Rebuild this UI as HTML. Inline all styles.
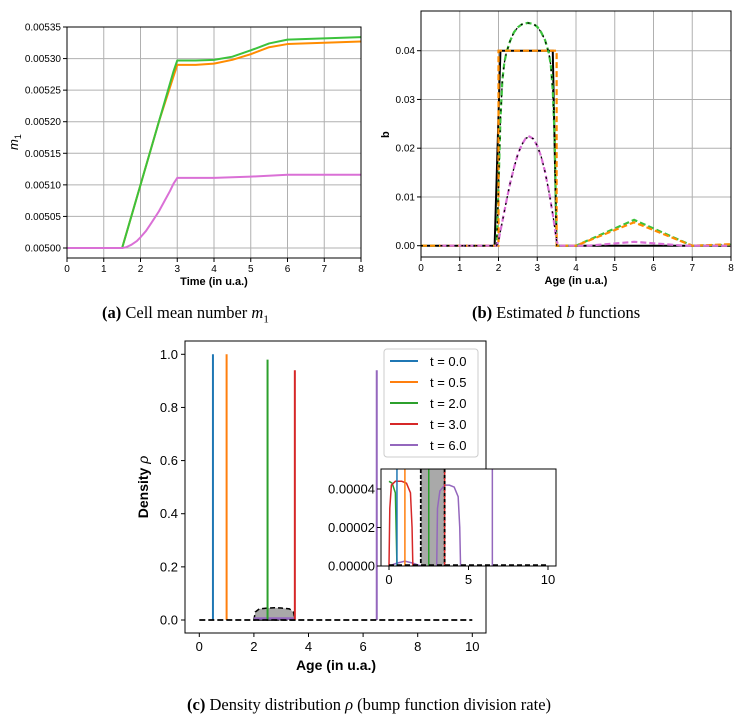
<!DOCTYPE html>
<html><head><meta charset="utf-8">
<style>
body{margin:0;background:#fff;width:750px;height:718px;overflow:hidden;font-family:"Liberation Sans",sans-serif}
svg{position:absolute;left:0;top:0}
.cap{position:absolute;font-family:"Liberation Serif",serif;font-size:16.5px;white-space:nowrap}
</style></head><body>
<svg id="s" width="750" height="718" xmlns="http://www.w3.org/2000/svg"></svg>
<div class="cap" style="left:102px;top:303px"><b>(a)</b> Cell mean number <i>m</i><sub style="font-size:11px">1</sub></div>
<div class="cap" style="left:472px;top:303px"><b>(b)</b> Estimated <i>b</i> functions</div>
<div class="cap" style="left:187px;top:695px"><b>(c)</b> Density distribution <i>ρ</i> (bump function division rate)</div>
<script>
// ---- Panel A data ----
const aTime=[0,1.5,2,2.5,2.9,3,3.5,4,4.5,5,5.5,6,7,8];
const aGreen=[0.005,0.005,0.0051,0.0052,0.00528,0.005297,0.005297,0.005298,0.005303,0.005313,0.005324,0.00533,0.005332,0.005334];
const aOrange=[0.005,0.005,0.0051,0.0052,0.005272,0.00529,0.00529,0.005292,0.005298,0.005307,0.005318,0.005323,0.005325,0.005327];
const aPinkT=[0,1.5,1.6,1.75,1.9,2,2.15,2.3,2.5,2.65,2.8,2.9,3,3.5,4,5,6,8];
const aPink=[0.005,0.005,0.005001,0.005005,0.005011,0.005017,0.005027,0.00504,0.005058,0.005074,0.00509,0.005102,0.005111,0.005111,0.005111,0.005113,0.005116,0.005116];
const aYTicks=[0.005,0.00505,0.0051,0.00515,0.0052,0.00525,0.0053,0.00535];
const aXTicks=[0,1,2,3,4,5,6,7,8];
// ---- Panel B data ----
const bRectX=[0,1.9,2.05,3.4,3.5,8];
const bRectY=[0,0,0.04,0.04,0,0];
const bOrangeX=[0,2,2,3.5,3.5,4,5.5,7,8];
const bOrangeY=[0,0,0.04,0.04,0,0,0.0048,0,0.0003];
const bGreenX=[0,1.95,2,2.05,2.1,2.15,2.2,2.3,2.4,2.5,2.6,2.75,2.9,3,3.1,3.2,3.3,3.35,3.4,3.45,3.5,4,5.5,7,8];
const bGreenY=[0,0,0.012,0.026,0.034,0.0375,0.0395,0.042,0.0438,0.0448,0.0454,0.0457,0.0455,0.0449,0.0438,0.0422,0.0395,0.037,0.032,0.022,0,0,0.0053,0,0.0002];
const bPinkX=[0.5,1.95,2,2.05,2.1,2.2,2.3,2.4,2.5,2.6,2.7,2.8,2.9,3,3.1,3.2,3.3,3.4,3.45,3.5,3.55,4.3,5.5,6.8,8];
const bPinkY=[0,0,0.001,0.003,0.005,0.009,0.0128,0.016,0.0188,0.0207,0.022,0.0224,0.0219,0.0205,0.0183,0.0152,0.0112,0.0065,0.0038,0.001,0,0,0.0008,0,0];
const bYTicks=[0,0.01,0.02,0.03,0.04];
const bXTicks=[0,1,2,3,4,5,6,7,8];
// ---- Panel C data ----
const cLabels=["t = 0.0","t = 0.5","t = 2.0","t = 3.0","t = 6.0"];
const cColors=["#1f77b4","#ff7f0e","#2ca02c","#d62728","#9467bd"];
const cPeakX=[0.5,1.0,2.5,3.5,6.5];
const cPeakY=[1.0,1.0,0.98,0.94,0.94];
const cGrayX=[2,2.05,2.2,2.5,2.75,3,3.3,3.45,3.5];
const cGrayY=[0,0.03,0.042,0.045,0.046,0.045,0.042,0.03,0];
const cYTicks=[0,0.2,0.4,0.6,0.8,1.0];
const cXTicks=[0,2,4,6,8,10];
const iGreenX=[0,0.2,0.4,0.5];const iGreenY=[0.000044,0.000043,0.000038,0];
const iRedX=[0,0.05,0.15,0.4,0.8,1.1,1.35,1.45,1.5];const iRedY=[0,0.00003,0.000042,0.000044,0.000044,0.000043,0.000038,0.00002,0];
const iPurpleX=[3,3.05,3.2,3.5,3.8,4.1,4.35,4.45,4.5];const iPurpleY=[0,0.00003,0.000039,0.000042,0.000042,0.000041,0.000036,0.00002,0];
const iSmallX=[0,0.5,1,1.5,2];const iSmallY=[0,0.0000015,0.0000025,0.0000015,0];
const iYTicks=[0,0.00002,0.00004];const iYLabels=["0.00000","0.00002","0.00004"];
const iXTicks=[0,5,10];

const S=document.getElementById('s');const NS='http://www.w3.org/2000/svg';
function el(t,a,p){const e=document.createElementNS(NS,t);for(const k in a)e.setAttribute(k,a[k]);(p||S).appendChild(e);return e;}
function txt(x,y,s,a){const e=el('text',Object.assign({x:x,y:y,'font-family':'Liberation Sans, sans-serif'},a));e.textContent=s;return e;}
function lin(d0,d1,p0,p1){return v=>p0+(v-d0)*(p1-p0)/(d1-d0);}
function path(xs,ys,X,Y){return xs.map((x,i)=>(i?'L':'M')+X(x).toFixed(2)+','+Y(ys[i]).toFixed(2)).join('');}

// ===== Panel A =====
{const X=lin(0,8,67,361),Y=lin(0.005,0.00535,248,27);
const g=el('g',{});
aXTicks.forEach(t=>{const l=el('line',{x1:X(t),x2:X(t),y1:27,y2:258,stroke:'#b0b0b0','stroke-width':1},g);
 el('line',{x1:X(t),x2:X(t),y1:258,y2:262,stroke:'#000'},g);const tt=txt(X(t),272,String(t),{'font-size':10,'text-anchor':'middle'});g.appendChild(tt);});
aYTicks.forEach(t=>{const l=el('line',{x1:67,x2:361,y1:Y(t),y2:Y(t),stroke:'#b0b0b0','stroke-width':1},g);
 el('line',{x1:63,x2:67,y1:Y(t),y2:Y(t),stroke:'#000'},g);const tt=txt(61,Y(t)+3.5,t.toFixed(5),{'font-size':10,'text-anchor':'end'});g.appendChild(tt);});
[[aTime,aOrange,'#ff8c00','orange'],[aTime,aGreen,'#3cc23c','green'],[aPinkT,aPink,'#da70d6','pink']].forEach(s=>{const p=el('path',{d:path(s[0],s[1],X,Y),fill:'none',stroke:s[2],'stroke-width':2,'stroke-linejoin':'round'},g);});
el('rect',{x:67,y:27,width:294,height:231,fill:'none',stroke:'#000','stroke-width':1},g);
const xl=txt(214,285,'Time (in u.a.)',{'font-size':11,'font-weight':'bold','text-anchor':'middle'});
const yl=txt(0,0,'m',{'font-size':13,'font-style':'italic','transform':'translate(18,150) rotate(-90)'});const ts=el('tspan',{'font-size':9,'font-style':'normal',dy:3},yl);ts.textContent='1';}

// ===== Panel B =====
{const X=lin(0,8,421,731),Y=lin(0,0.04,245.7,50.7);
const g=el('g',{});
bXTicks.forEach(t=>{const l=el('line',{x1:X(t),x2:X(t),y1:11,y2:257,stroke:'#b0b0b0'},g);
 el('line',{x1:X(t),x2:X(t),y1:257,y2:261,stroke:'#000'},g);const tt=txt(X(t),271,String(t),{'font-size':10,'text-anchor':'middle'});g.appendChild(tt);});
bYTicks.forEach(t=>{const l=el('line',{x1:421,x2:731,y1:Y(t),y2:Y(t),stroke:'#b0b0b0'},g);
 el('line',{x1:417,x2:421,y1:Y(t),y2:Y(t),stroke:'#000'},g);const tt=txt(415,Y(t)+3.5,t.toFixed(2),{'font-size':10,'text-anchor':'end'});g.appendChild(tt);});
const L=[[bRectX,bRectY,'#000',2,null,'true-rect'],[bGreenX,bGreenY,'#3cc23c',2.2,'6,3','green-estimate'],[bOrangeX,bOrangeY,'#ff8c00',2.2,'6,3','orange-estimate'],[bGreenX.slice(0,21),bGreenY.slice(0,21),'#000',1.3,'2,5','true-bump'],[bPinkX,bPinkY,'#da70d6',2.2,'6,3','pink-estimate'],[bPinkX.slice(0,21),bPinkY.slice(0,21),'#000',1.3,'2,5','true-small-bump']];
L.forEach(s=>{const a={d:path(s[0],s[1],X,Y),fill:'none',stroke:s[2],'stroke-width':s[3]};if(s[4])a['stroke-dasharray']=s[4];const p=el('path',a,g);});
el('rect',{x:421,y:11,width:310,height:246,fill:'none',stroke:'#000'},g);
const xl=txt(576,284,'Age (in u.a.)',{'font-size':11,'font-weight':'bold','text-anchor':'middle'});
const yl=txt(0,0,'b',{'font-size':11,'font-weight':'bold','transform':'translate(389,138) rotate(-90)'});}

// ===== Panel C =====
{const X=lin(0,10,199.3,472.3),Y=lin(0,1,620,354.3);
const g=el('g',{});
cXTicks.forEach(t=>{el('line',{x1:X(t),x2:X(t),y1:633,y2:637,stroke:'#000'},g);const tt=txt(X(t),651,String(t),{'font-size':13,'text-anchor':'middle'});g.appendChild(tt);});
cYTicks.forEach(t=>{el('line',{x1:181,x2:185,y1:Y(t),y2:Y(t),stroke:'#000'},g);const tt=txt(178,Y(t)+4.5,t.toFixed(1),{'font-size':13,'text-anchor':'end'});g.appendChild(tt);});
const gr=el('path',{d:path(cGrayX,cGrayY,X,Y)+'Z',fill:'#a9a9a9',stroke:'#000','stroke-width':1.5,'stroke-dasharray':'5,3'},g);
el('line',{x1:X(2),x2:X(3.5),y1:Y(0)-1.5,y2:Y(0)-1.5,stroke:'#9467bd','stroke-width':2.5},g);
cPeakX.forEach((x,i)=>{const l=el('line',{x1:X(x),x2:X(x),y1:Y(0),y2:Y(cPeakY[i]),stroke:cColors[i],'stroke-width':2},g);});
const bl=el('line',{x1:X(0),x2:X(10),y1:Y(0),y2:Y(0),stroke:'#000','stroke-width':1.8,'stroke-dasharray':'6,3'},g);
el('rect',{x:185,y:341,width:301,height:292,fill:'none',stroke:'#000'},g);
const lg=el('g',{},g);
el('rect',{x:384,y:349,width:94,height:108,rx:3,fill:'#fff',stroke:'#ccc'},lg);
cLabels.forEach((s,i)=>{const y=361+i*21;const e=el('g',{},lg);
 el('line',{x1:390,x2:418,y1:y,y2:y,stroke:cColors[i],'stroke-width':2},e);const t=txt(430,y+5,s,{'font-size':13});e.appendChild(t);});
const xl=txt(336,670,'Age (in u.a.)',{'font-size':14,'font-weight':'bold','text-anchor':'middle'});
const yl=txt(0,0,'Density ',{'font-size':14,'font-weight':'bold','transform':'translate(148,487) rotate(-90)','text-anchor':'middle'});const r=el('tspan',{'font-weight':'normal','font-style':'italic'},yl);r.textContent='ρ';
// inset
const IX=lin(0,10,389,548),IY=lin(0,0.00004,566,489);
const ig=el('g',{},g);
el('rect',{x:381,y:469,width:175,height:97,fill:'#fff'},ig);
el('clipPath',{id:'ic'},ig);el('rect',{x:381,y:469,width:175,height:97},document.getElementById('ic'));
const ic=el('g',{'clip-path':'url(#ic)'},ig);
const igr=el('path',{d:path([2,2,3.5,3.5],[0,0.001,0.001,0],IX,IY)+'Z',fill:'#a9a9a9',stroke:'none'},ic);
[[2],[3.5]].forEach(v=>{el('line',{x1:IX(v[0]),x2:IX(v[0]),y1:469,y2:566,stroke:'#000','stroke-width':1.8,'stroke-dasharray':'4,2'},ic);});
[[iSmallX,iSmallY,'#9467bd'],[iGreenX,iGreenY,'#2ca02c'],[iRedX,iRedY,'#d62728'],[iPurpleX,iPurpleY,'#9467bd']].forEach(s=>{const p=el('path',{d:path(s[0],s[1],IX,IY),fill:'none',stroke:s[2],'stroke-width':1.5},ic);});
cPeakX.forEach((x,i)=>{el('line',{x1:IX(x),x2:IX(x),y1:566,y2:469,stroke:cColors[i],'stroke-width':1.5},ic);});
el('line',{x1:IX(3.5),x2:IX(3.5),y1:469,y2:566,stroke:'#000','stroke-width':1.5,'stroke-dasharray':'3,3'},ic);
el('line',{x1:IX(0),x2:IX(10),y1:565,y2:565,stroke:'#000','stroke-width':1.5,'stroke-dasharray':'5,3'},ic);
el('rect',{x:381,y:469,width:175,height:97,fill:'none',stroke:'#000'},ig);
iYTicks.forEach((t,i)=>{el('line',{x1:377,x2:381,y1:IY(t),y2:IY(t),stroke:'#000'},ig);const tt=txt(375,IY(t)+4.5,iYLabels[i],{'font-size':13,'text-anchor':'end'});ig.appendChild(tt);});
iXTicks.forEach(t=>{el('line',{x1:IX(t),x2:IX(t),y1:566,y2:570,stroke:'#000'},ig);const tt=txt(IX(t),584,String(t),{'font-size':13,'text-anchor':'middle'});ig.appendChild(tt);});}
</script>
</body></html>
